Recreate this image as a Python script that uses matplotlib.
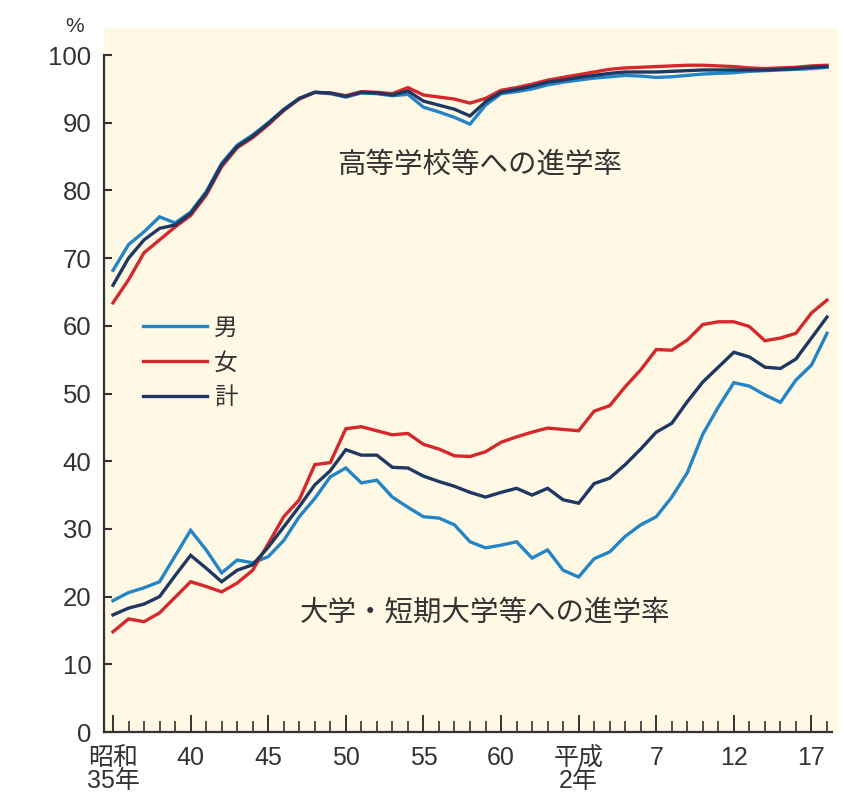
import matplotlib.pyplot as plt
from matplotlib.ticker import FixedLocator

# data: 昭和35年 (1960) .. 平成18年 (2006), one value per year
years = list(range(1960, 2007))

hs_male = [68.2, 72.0, 73.9, 76.1, 75.2, 76.8, 79.8, 84.0, 86.7, 88.2,
           90.0, 92.0, 93.6, 94.5, 94.3, 93.8, 94.4, 94.3, 94.0, 94.2,
           92.3, 91.6, 90.8, 89.8, 92.6, 94.3, 94.6, 95.0, 95.6, 96.0,
           96.3, 96.6, 96.8, 97.0, 96.9, 96.7, 96.8, 97.0, 97.2, 97.3,
           97.4, 97.6, 97.7, 97.8, 97.9, 98.0, 98.2]
hs_female = [63.4, 66.8, 70.8, 72.7, 74.6, 76.3, 79.3, 83.5, 86.3, 87.8,
             89.7, 91.8, 93.5, 94.5, 94.4, 94.0, 94.6, 94.5, 94.3, 95.2,
             94.1, 93.8, 93.5, 92.9, 93.6, 94.8, 95.2, 95.7, 96.3, 96.7,
             97.1, 97.5, 97.9, 98.1, 98.2, 98.3, 98.4, 98.5, 98.5, 98.4,
             98.3, 98.1, 98.0, 98.1, 98.2, 98.4, 98.5]
hs_total = [66.0, 70.0, 72.7, 74.4, 74.9, 76.6, 79.6, 83.8, 86.5, 88.0,
            89.9, 91.9, 93.6, 94.5, 94.4, 93.9, 94.5, 94.4, 94.1, 94.7,
            93.2, 92.6, 92.0, 91.0, 93.1, 94.5, 94.9, 95.4, 96.0, 96.3,
            96.7, 97.0, 97.3, 97.5, 97.5, 97.5, 97.6, 97.7, 97.8, 97.8,
            97.8, 97.8, 97.8, 97.9, 98.0, 98.2, 98.3]

univ_male = [19.4, 20.6, 21.3, 22.2, 26.0, 29.8, 26.9, 23.5, 25.4, 25.0,
             25.9, 28.3, 31.8, 34.5, 37.7, 39.0, 36.8, 37.2, 34.7, 33.2,
             31.8, 31.6, 30.6, 28.1, 27.2, 27.6, 28.1, 25.7, 26.9, 23.9,
             22.9, 25.6, 26.6, 28.9, 30.6, 31.8, 34.7, 38.3, 44.0, 48.0,
             51.6, 51.1, 49.8, 48.7, 52.0, 54.2, 58.9]
univ_female = [14.8, 16.7, 16.3, 17.6, 19.9, 22.2, 21.5, 20.7, 22.0, 23.9,
               27.8, 31.8, 34.3, 39.5, 39.8, 44.8, 45.1, 44.5, 43.9, 44.1,
               42.5, 41.8, 40.8, 40.7, 41.4, 42.8, 43.6, 44.3, 44.9, 44.7,
               44.5, 47.4, 48.2, 51.0, 53.5, 56.5, 56.4, 57.9, 60.2, 60.6,
               60.6, 59.9, 57.8, 58.2, 58.9, 61.9, 63.8]
univ_total = [17.3, 18.3, 18.9, 20.0, 23.1, 26.1, 24.2, 22.2, 23.9, 24.7,
              27.3, 30.3, 33.3, 36.5, 38.6, 41.7, 40.9, 40.9, 39.1, 39.0,
              37.8, 37.0, 36.3, 35.4, 34.7, 35.4, 36.0, 35.0, 36.0, 34.3,
              33.8, 36.7, 37.5, 39.5, 41.8, 44.3, 45.6, 48.8, 51.7, 53.9,
              56.1, 55.4, 53.9, 53.7, 55.1, 58.2, 61.3]

series_labels = ["男", "女", "計"]
tick_years = [1960, 1965, 1970, 1975, 1980, 1985, 1990, 1995, 2000, 2005]
tick_labels = ["昭和\n35年", "40", "45", "50", "55", "60", "平成\n2年", "7", "12", "17"]

plt.rcParams['font.family'] = ['Liberation Sans', 'Noto Sans CJK JP']

c_male = "#2384c6"
c_female = "#d4282c"
c_total = "#1f3863"
c_text = "#333333"

fig = plt.figure(figsize=(8.45, 7.98), dpi=100)
ax = fig.add_axes([104 / 845, 1 - 732 / 798, 734 / 845, 704 / 798])
ax.set_facecolor("#fff8e4")

lw = 2.4
handles = []
for vals, col in [(univ_male, c_male), (univ_female, c_female), (univ_total, c_total)]:
    h, = ax.plot(years, vals, color=col, lw=lw, solid_joinstyle="miter")
    handles.append(h)
for vals, col in [(hs_male, c_male), (hs_female, c_female), (hs_total, c_total)]:
    ax.plot(years, vals, color=col, lw=lw, solid_joinstyle="miter")

ax.set_xlim(1959.42, 2006.71)
ax.set_ylim(0, 104)

for s in ["top", "right"]:
    ax.spines[s].set_visible(False)
ax.spines["left"].set_bounds(0, 100)
ax.spines["bottom"].set_bounds(1959.42, 2006.35)
for s in ["left", "bottom"]:
    ax.spines[s].set_color(c_text)
    ax.spines[s].set_linewidth(1.6)

ax.set_yticks(range(0, 101, 10))
ax.xaxis.set_major_locator(FixedLocator(tick_years))
ax.xaxis.set_minor_locator(FixedLocator(years))
ax.set_xticklabels(tick_labels)
for t in ax.get_xticklabels():
    t.set_linespacing(0.95)

ax.tick_params(axis="y", direction="in", length=6, width=1.5, color=c_text,
               labelcolor=c_text, labelsize=18.5, pad=9)
ax.tick_params(axis="x", which="major", direction="in", length=12, width=1.4,
               color=c_text, labelcolor=c_text, labelsize=18, pad=10)
ax.tick_params(axis="x", which="minor", direction="in", length=8, width=1.2,
               color=c_text)

fig.text(75 / 845, 1 - 26 / 798, "%", ha="center", va="center", fontsize=15,
         color=c_text)

ax.text(1983.6, 83.8, "高等学校等への進学率", ha="center", va="center",
        fontsize=20.5, color=c_text, family="Noto Sans CJK JP")
ax.text(1984.0, 17.7, "大学・短期大学等への進学率", ha="center", va="center",
        fontsize=20.5, color=c_text, family="Noto Sans CJK JP")

ax.legend(handles, series_labels, loc="upper left", bbox_to_anchor=(0.053, 0.59),
          frameon=False, handlelength=2.7, handletextpad=0.3, labelspacing=0.5,
          borderpad=0, borderaxespad=0,
          prop={"family": "Noto Sans CJK JP", "size": 17}, labelcolor=c_text)

fig.savefig("out.png", dpi=100, facecolor="white")
